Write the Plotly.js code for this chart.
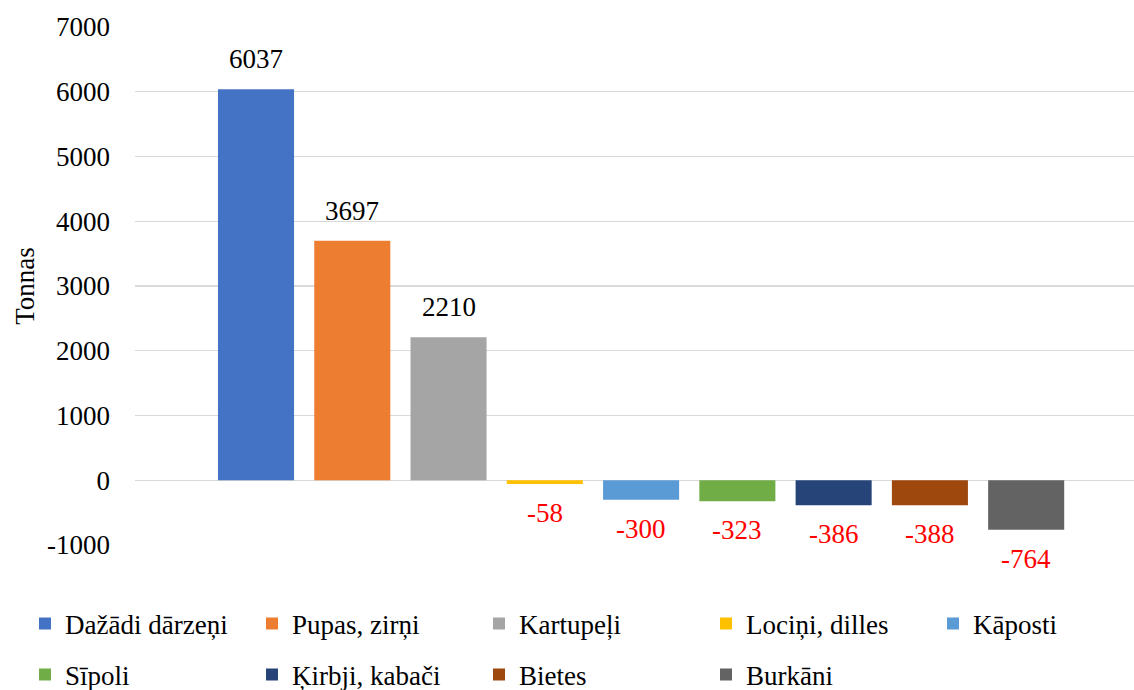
<!DOCTYPE html>
<html>
<head>
<meta charset="utf-8">
<script src="https://cdn.plot.ly/plotly-3.0.1.min.js"></script>
<style>html,body{margin:0;padding:0;background:#fff;}#chart{width:1134px;height:690px;}</style>
</head>
<body>
<div id="chart"></div>
<script>
const categories = ["Dažādi dārzeņi", "Pupas, zirņi", "Kartupeļi", "Lociņi, dilles", "Kāposti", "Sīpoli", "Ķirbji, kabači", "Bietes", "Burkāni"];
const values = [6037, 3697, 2210, -58, -300, -323, -386, -388, -764];
const colors = ["#4472C4", "#ED7D31", "#A5A5A5", "#FFC000", "#5B9BD5", "#70AD47", "#264478", "#9E480E", "#636363"];
const yTicks = [-1000, 0, 1000, 2000, 3000, 4000, 5000, 6000, 7000];
const yTitle = "Tonnas";

const FONT = "Liberation Serif";
const FS = 27;

const traces = categories.map((c, i) => ({
  type: "bar",
  name: c,
  x: [c],
  y: [values[i]],
  width: 0.79,
  marker: { color: colors[i] },
  legend: i < 5 ? "legend" : "legend2",
  hoverinfo: "name+y"
}));

const annotations = categories.map((c, i) => ({
  x: c,
  y: values[i],
  xref: "x",
  yref: "y",
  text: String(values[i]),
  showarrow: false,
  yanchor: "middle",
  yshift: values[i] >= 0 ? 30 : -29,
  font: { family: FONT, size: FS, color: values[i] >= 0 ? "#000000" : "#FF0000" }
}));

const legendBase = {
  orientation: "h",
  x: (25 - 135) / 999,
  xanchor: "left",
  yanchor: "middle",
  entrywidth: 182,
  entrywidthmode: "pixels",
  font: { family: FONT, size: FS, color: "#000000" },
  bgcolor: "rgba(0,0,0,0)"
};

const layout = {
  width: 1134,
  height: 690,
  margin: { l: 135, r: 0, t: 27, b: 145, autoexpand: false },
  paper_bgcolor: "#ffffff",
  plot_bgcolor: "#ffffff",
  barmode: "relative",
  showlegend: true,
  font: { family: FONT, size: FS, color: "#000000" },
  xaxis: {
    type: "category",
    range: [-1.257, 9.12],
    showticklabels: false,
    showgrid: false,
    zeroline: false,
    showline: false,
    ticks: "",
    automargin: false
  },
  yaxis: {
    range: [-1000, 7000],
    tickvals: yTicks,
    ticktext: yTicks.map(String),
    showgrid: true,
    gridcolor: "#d9d9d9",
    gridwidth: 1.3,
    zeroline: false,
    showline: false,
    ticks: "",
    ticklabelstandoff: 24,
    automargin: true,
    tickfont: { family: FONT, size: FS, color: "#000000" },
    title: { text: yTitle, font: { family: FONT, size: FS, color: "#000000" }, standoff: 4 }
  },
  legend: Object.assign({}, legendBase, { y: (545 - 624) / 518 }),
  legend2: Object.assign({}, legendBase, { y: (545 - 675) / 518 }),
  annotations: annotations
};

Plotly.newPlot("chart", traces, layout, { displayModeBar: false, staticPlot: true });
</script>
</body>
</html>
